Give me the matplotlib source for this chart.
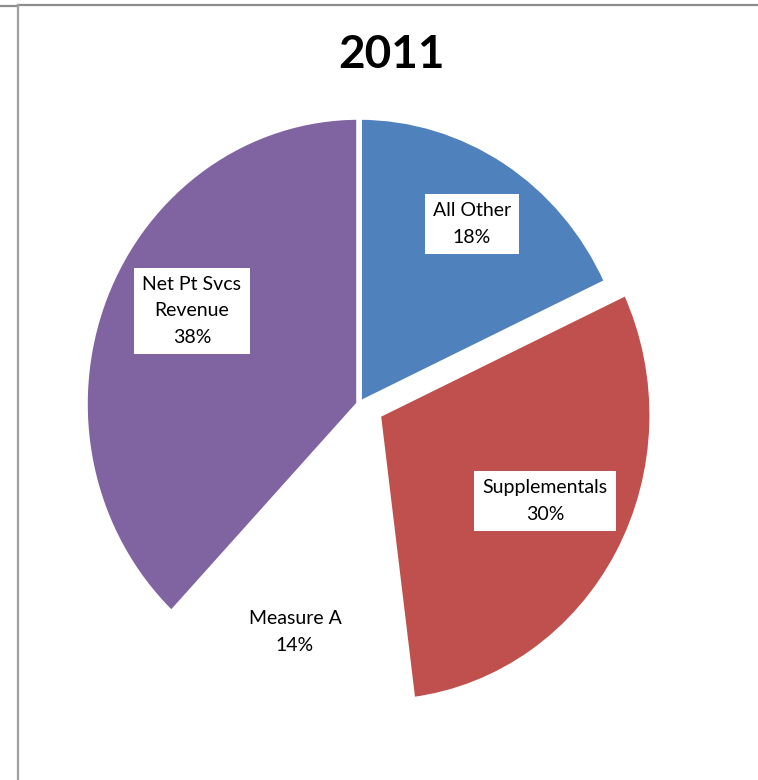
import matplotlib.pyplot as plt
from matplotlib.lines import Line2D

# data
labels = ['All Other', 'Supplementals', 'Measure A', 'Net Pt Svcs\nRevenue']
shares = [18, 30, 14, 38]
colors = ['#4F81BD', '#C0504D', '#FFFFFF', '#8064A2']
explode = [0, 0.08, 0, 0]
title = '2011'

# label placement in pixels (from top-left) and whether boxed
label_pos = [(472, 224), (545, 501), (295, 632), (192, 311)]
label_box = [True, True, False, True]

W, H = 758, 780
cx, cy = 359, 404    # pie centre, px
rx, ry = 274, 287    # pie radii, px (slightly squashed like the original)

plt.rcParams['font.family'] = ['Lato', 'DejaVu Sans']

fig = plt.figure(figsize=(W / 100, H / 100), dpi=100)
ax = fig.add_axes([0, 0, 1, 1])
ax.pie(shares, colors=colors, explode=explode, startangle=90,
       counterclock=False, radius=1,
       wedgeprops=dict(edgecolor='white', linewidth=4))
ax.set_aspect('auto')
ax.set_xlim(-cx / rx, (W - cx) / rx)
ax.set_ylim(-(H - cy) / ry, cy / ry)
ax.axis('off')

for lab, val, (px, py), boxed in zip(labels, shares, label_pos, label_box):
    bbox = dict(facecolor='white', edgecolor='none', boxstyle='square,pad=0.42') if boxed else None
    fig.text(px / W, 1 - py / H, f'{lab}\n{val}%', ha='center', va='center',
             fontsize=14, color='black', linespacing=1.7, bbox=bbox)

fig.text(392 / W, 1 - 55 / H, title, ha='center', va='center',
         fontsize=33, fontweight='bold', color='black')

# chart frame remnants
gray = '#8c8c8c'
fig.add_artist(Line2D([18 / W, 1], [1 - 5 / H, 1 - 5 / H], color=gray, lw=1.6))
fig.add_artist(Line2D([0, 18 / W], [1 - 6 / H, 1 - 6 / H], color=gray, lw=1.6))
fig.add_artist(Line2D([18 / W, 18 / W], [0, 1 - 5 / H], color='#a0a0a0', lw=1.6))

fig.savefig('out.png', dpi=100)
